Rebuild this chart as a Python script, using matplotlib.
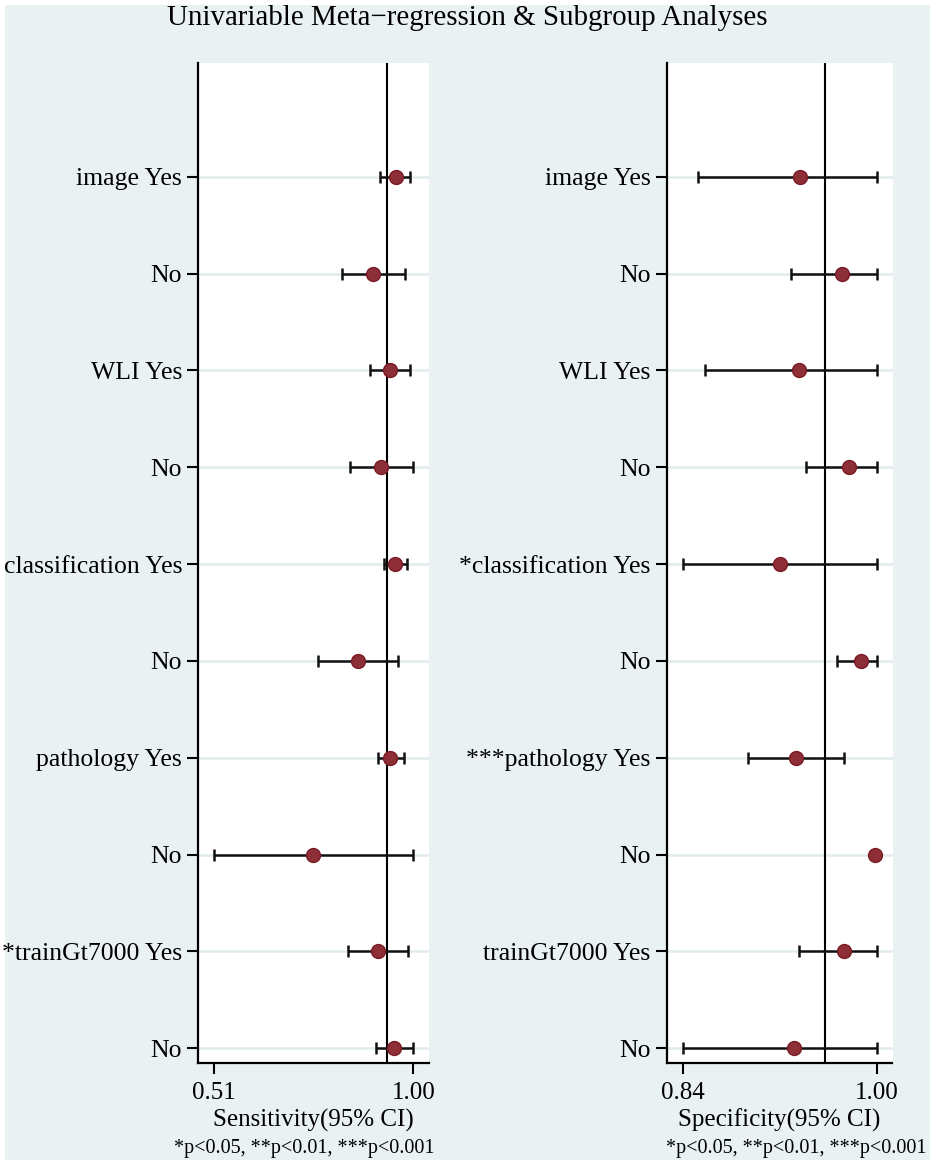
import matplotlib
matplotlib.use("Agg")
import matplotlib.pyplot as plt
import numpy as np

plt.rcParams['font.family'] = ['Liberation Serif', 'DejaVu Serif']

# ---- data ----
labels_sens = ["image Yes", "No", "WLI Yes", "No", "classification Yes", "No",
               "pathology Yes", "No", "*trainGt7000 Yes", "No"]
sens = [0.957, 0.901, 0.943, 0.921, 0.956, 0.863, 0.943, 0.754, 0.913, 0.953]
sens_lo = [0.918, 0.825, 0.893, 0.845, 0.927, 0.766, 0.914, 0.509, 0.840, 0.908]
sens_hi = [0.993, 0.979, 0.993, 0.999, 0.984, 0.962, 0.976, 0.999, 0.986, 0.999]
sens_overall = 0.935

labels_spec = ["image Yes", "No", "WLI Yes", "No", "*classification Yes", "No",
               "***pathology Yes", "No", "trainGt7000 Yes", "No"]
spec = [0.937, 0.971, 0.936, 0.977, 0.920, 0.987, 0.933, 0.999, 0.973, 0.932]
spec_lo = [0.852, 0.929, 0.858, 0.942, 0.840, 0.967, 0.894, 0.999, 0.936, 0.840]
spec_hi = [1.000, 1.000, 1.000, 1.000, 1.000, 1.000, 0.973, 0.999, 1.000, 1.000]
spec_overall = 0.957

sens_ticks = [0.51, 1.00]
spec_ticks = [0.84, 1.00]
sens_ticklabels = ["0.51", "1.00"]
spec_ticklabels = ["0.84", "1.00"]

title = "Univariable Meta\u2212regression & Subgroup Analyses"
note = "*p<0.05, **p<0.01, ***p<0.001"

# ---- figure ----
W, H = 935, 1166
fig = plt.figure(figsize=(W / 100, H / 100), dpi=100, facecolor='white')
bg = '#EAF1F3'
fig.patches.append(plt.Rectangle((5 / W, 1 - 1160 / H), 925 / W, 1155 / H,
                                 transform=fig.transFigure, facecolor=bg,
                                 edgecolor='none', zorder=-10))

ax_top = 1 - 63 / H
ax_bot = 1 - 1063 / H
axL = fig.add_axes([198 / W, ax_bot, (429 - 198) / W, ax_top - ax_bot])
axR = fig.add_axes([666.7 / W, ax_bot, (892.5 - 666.7) / W, ax_top - ax_bot])

rows = np.arange(1, len(sens) + 1)
marker_face = '#8E2F38'
marker_edge = '#7A1C25'


def panel(ax, vals, lo, hi, overall, labels, xlim, ticks, ticklabels, xlabel):
    ax.set_facecolor('white')
    for r in rows:
        ax.axhline(r, color='#E1ECEF', lw=1.8, zorder=1)
    ax.axvline(overall, color='black', lw=1.5, zorder=2)
    vals = np.array(vals)
    err = np.vstack([vals - np.array(lo), np.array(hi) - vals])
    ax.errorbar(vals, rows, xerr=err, fmt='none', ecolor='#111111',
                elinewidth=1.8, capsize=4.5, capthick=1.8, zorder=3)
    ax.plot(vals, rows, 'o', ms=10, mfc=marker_face, mec=marker_edge,
            mew=1.0, zorder=4)
    ax.set_xlim(*xlim)
    ax.set_ylim(10.152, -0.174)
    ax.set_yticks(rows)
    ax.set_yticklabels(labels, fontsize=18.5)
    ax.set_xticks(ticks)
    ax.set_xticklabels(ticklabels, fontsize=18)
    ax.tick_params(axis='both', direction='out', length=8, width=1.5,
                   color='black')
    ax.tick_params(axis='y', pad=3.5)
    ax.tick_params(axis='x', pad=5.5)
    for s in ['top', 'right']:
        ax.spines[s].set_visible(False)
    for s in ['left', 'bottom']:
        ax.spines[s].set_linewidth(1.6)
        ax.spines[s].set_color('black')
    ax.set_xlabel(xlabel, fontsize=18, labelpad=3.5)


panel(axL, sens, sens_lo, sens_hi, sens_overall, labels_sens,
      (0.4699, 1.0387), sens_ticks, sens_ticklabels, "Sensitivity(95% CI)")
panel(axR, spec, spec_lo, spec_hi, spec_overall, labels_spec,
      (0.8263, 1.0132), spec_ticks, spec_ticklabels, "Specificity(95% CI)")

fig.text(467.5 / W, 1 - 25 / H, title, ha='center', va='baseline', fontsize=20.9)
fig.text(435 / W, 1 - 1153 / H, note, ha='right', va='baseline', fontsize=14.5)
fig.text(927 / W, 1 - 1153 / H, note, ha='right', va='baseline', fontsize=14.5)

fig.savefig('out.png', dpi=100, facecolor='white')
